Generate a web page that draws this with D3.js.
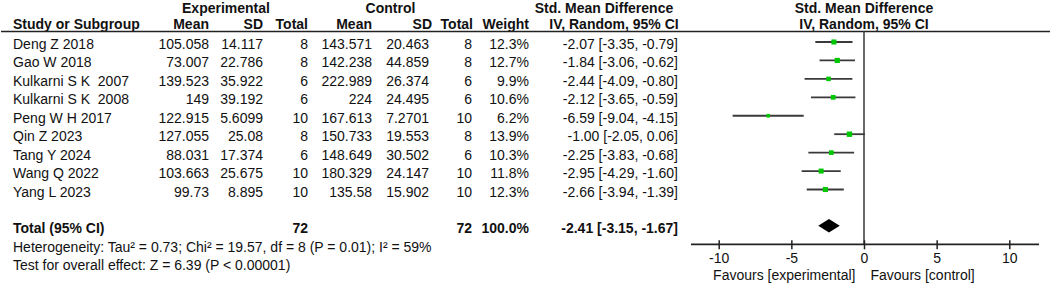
<!DOCTYPE html>
<html>
<head>
<meta charset="utf-8">
<script src="https://cdn.jsdelivr.net/npm/d3@7"></script>
<style>
  body { margin: 0; background: #fff; }
  svg { display: block; }
  text { font-family: "Liberation Sans", Arial, sans-serif; font-size: 14px; fill: #111; }
  .b { font-weight: bold; }
</style>
</head>
<body>
<div id="chart"></div>
<script>
const studies = ["Deng Z 2018", "Gao W 2018", "Kulkarni S K  2007", "Kulkarni S K  2008", "Peng W H 2017",
  "Qin Z 2023", "Tang Y 2024", "Wang Q 2022", "Yang L 2023"]
const expMean = ["105.058", "73.007", "139.523", "149", "122.915", "127.055", "88.031", "103.663", "99.73"]
const expSD = ["14.117", "22.786", "35.922", "39.192", "5.6099", "25.08", "17.374", "25.675", "8.895"]
const expN = [8, 8, 6, 6, 10, 8, 6, 10, 10]
const ctlMean = ["143.571", "142.238", "222.989", "224", "167.613", "150.733", "148.649", "180.329", "135.58"]
const ctlSD = ["20.463", "44.859", "26.374", "24.495", "7.2701", "19.553", "30.502", "24.147", "15.902"]
const ctlN = [8, 8, 6, 6, 10, 8, 6, 10, 10]
const weights = [12.3, 12.7, 9.9, 10.6, 6.2, 13.9, 10.3, 11.8, 12.3]
const smd = [-2.07, -1.84, -2.44, -2.12, -6.59, -1.00, -2.25, -2.95, -2.66]
const lower = [-3.35, -3.06, -4.09, -3.65, -9.04, -2.05, -3.83, -4.29, -3.94]
const upper = [-0.79, -0.62, -0.80, -0.59, -4.15, 0.06, -0.68, -1.60, -1.39]
const total = {expN: 72, ctlN: 72, weight: "100.0%", est: -2.41, lo: -3.15, hi: -1.67}
const heterogeneity = "Heterogeneity: Tau² = 0.73; Chi² = 19.57, df = 8 (P = 0.01); I² = 59%"
const overall = "Test for overall effect: Z = 6.39 (P < 0.00001)"
const tickValues = [-10, -5, 0, 5, 10]

const W = 1052, H = 284
const svg = d3.select("#chart").append("svg")
  .attr("width", W).attr("height", H)

const x = d3.scaleLinear().domain([-10, 10]).range([718.7, 1009.3])
const y = d3.scaleLinear().domain([0, studies.length - 1]).range([42, 189.5])
const totalY = 225.7
const size = d3.scaleSqrt().domain([0, 100]).range([0, 14.5])
const f2 = v => v.toFixed(2)
const ci = (e, l, h) => `${f2(e)} [${f2(l)}, ${f2(h)}]`

// column right edges
const col = {expMean: 209, expSD: 263, expN: 308, ctlMean: 372, ctlSD: 429, ctlN: 472, weight: 529, ci: 678}

// group headers
svg.append("text").attr("class", "b").attr("x", 226).attr("y", 12.5).attr("text-anchor", "middle").text("Experimental")
svg.append("text").attr("class", "b").attr("x", 390.5).attr("y", 12.5).attr("text-anchor", "middle").text("Control")
svg.append("text").attr("class", "b").attr("x", 604).attr("y", 12.5).attr("text-anchor", "middle").text("Std. Mean Difference")
svg.append("text").attr("class", "b").attr("x", x(0)).attr("y", 12.5).attr("text-anchor", "middle").text("Std. Mean Difference")

const hdrY = 29
const heads = [
  ["Study or Subgroup", 13, "start"], ["Mean", col.expMean, "end"], ["SD", col.expSD, "end"], ["Total", col.expN, "end"],
  ["Mean", col.ctlMean, "end"], ["SD", 432, "end"], ["Total", 473, "end"], ["Weight", col.weight, "end"],
  ["IV, Random, 95% CI", 614, "middle"], ["IV, Random, 95% CI", x(0), "middle"]
]
svg.selectAll(".hd").data(heads).enter().append("text")
  .attr("class", "b")
  .attr("x", d => d[1]).attr("y", hdrY)
  .attr("text-anchor", d => d[2])
  .text(d => d[0])

svg.append("line").attr("x1", 1).attr("x2", 1050).attr("y1", 31.5).attr("y2", 31.5)
  .attr("stroke", "#222").attr("stroke-width", 1.5)

// study rows
const rows = svg.append("g")
studies.forEach(function(s, i) {
  const by = y(i) + 7
  const cells = [
    [s, 13, "start"], [expMean[i], col.expMean, "end"], [expSD[i], col.expSD, "end"], [expN[i], col.expN, "end"],
    [ctlMean[i], col.ctlMean, "end"], [ctlSD[i], col.ctlSD, "end"], [ctlN[i], col.ctlN, "end"],
    [weights[i].toFixed(1) + "%", col.weight, "end"], [ci(smd[i], lower[i], upper[i]), col.ci, "end"]
  ]
  cells.forEach(function(c) {
    rows.append("text").attr("x", c[1]).attr("y", by).attr("text-anchor", c[2])
      .style("white-space", "pre").text(c[0])
  })
})

// total rows
const tb = totalY + 7.5
svg.append("text").attr("class", "b").attr("x", 13).attr("y", tb).text("Total (95% CI)")
svg.append("text").attr("class", "b").attr("x", col.expN).attr("y", tb).attr("text-anchor", "end").text(total.expN)
svg.append("text").attr("class", "b").attr("x", col.ctlN).attr("y", tb).attr("text-anchor", "end").text(total.ctlN)
svg.append("text").attr("class", "b").attr("x", col.weight).attr("y", tb).attr("text-anchor", "end").text(total.weight)
svg.append("text").attr("class", "b").attr("x", col.ci).attr("y", tb).attr("text-anchor", "end").text(ci(total.est, total.lo, total.hi))
svg.append("text").attr("x", 13).attr("y", tb + 18.5).text(heterogeneity)
svg.append("text").attr("x", 13).attr("y", tb + 37).text(overall)

// zero line
const axisY = 244.3
svg.append("line").attr("x1", x(0)).attr("x2", x(0)).attr("y1", 31.5).attr("y2", axisY)
  .attr("stroke", "#444").attr("stroke-width", 1.6)

// CI lines + markers
const plot = svg.append("g")
plot.selectAll(".ci").data(studies).enter().append("line")
  .attr("x1", (d, i) => x(lower[i])).attr("x2", (d, i) => x(upper[i]))
  .attr("y1", (d, i) => y(i)).attr("y2", (d, i) => y(i))
  .attr("stroke", "#3a3a3a").attr("stroke-width", 1.8)
plot.selectAll(".pt").data(studies).enter().append("rect")
  .attr("x", (d, i) => x(smd[i]) - size(weights[i]) / 2)
  .attr("y", (d, i) => y(i) - size(weights[i]) / 2)
  .attr("width", (d, i) => size(weights[i]))
  .attr("height", (d, i) => size(weights[i]))
  .attr("fill", "#00c800")

// diamond
const dh = 6.7
svg.append("path")
  .attr("d", `M${x(total.lo)},${totalY}L${x(total.est)},${totalY - dh}L${x(total.hi)},${totalY}L${x(total.est)},${totalY + dh}Z`)
  .attr("fill", "#000")

// axis
const axis = svg.append("g").attr("transform", `translate(0,${axisY})`)
  .call(d3.axisBottom(x).tickValues(tickValues).tickSize(5).tickSizeOuter(0).tickFormat(d => String(d)))
axis.select(".domain").remove()
axis.append("line").attr("x1", 691).attr("x2", 1039).attr("stroke", "#222").attr("stroke-width", 1.8)
axis.selectAll(".tick line").attr("y1", -4).attr("stroke", "#222").attr("stroke-width", 1.5)
axis.selectAll(".tick text").attr("y", 9).attr("dy", "0.71em")
  .style("font-family", '"Liberation Sans", Arial, sans-serif').style("font-size", "14px").attr("fill", "#111")

svg.append("text").attr("x", x(0) - 8.5).attr("y", 280).attr("text-anchor", "end").attr("fill", "#333").text("Favours [experimental]")
svg.append("text").attr("x", x(0) + 6.5).attr("y", 280).attr("fill", "#333").text("Favours [control]")
</script>
</body>
</html>
